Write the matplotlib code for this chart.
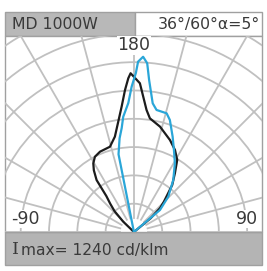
import numpy as np
import matplotlib
matplotlib.use("Agg")
import matplotlib.pyplot as plt
from matplotlib.patches import Rectangle, Circle

# luminaire info
title_left = "MD 1000W"
title_right = "36°/60°α=5°"
imax_text = "max= 1240 cd/klm"

# C0-C180 plane (black), angle from vertical in deg, intensity cd/klm
black_ang = [-48, -46, -43, -40, -37.5, -35.7, -33, -30.6, -27.4, -22.9, -15.7, -11.3,
             -8.1, -5.6, -3.6, -2.1, -1.2, 2.3, 5.9, 8.0, 13.9, 21.4, 26.6, 31.0,
             34.8, 39.2, 44.7, 47.5, 50.6, 53]
black_cd = [0, 105, 200, 260, 320, 452, 520, 564, 599, 616, 626, 687,
            787, 890, 1005, 1087, 1122, 1052, 867, 811, 767, 698, 648, 594,
            508, 428, 301, 250, 153, 0]

# C90-C270 plane (blue)
blue_ang = [-12, -11.2, -8.7, -6.7, -5.3, -2.5, -0.9, 0.7, 1.4, 3.0, 4.5, 5.7,
            8.3, 10.5, 15.4, 17.8, 22.1, 26.0, 30.7, 37.1, 44.2, 49.8, 54]
blue_cd = [0, 560, 670, 740, 818, 912, 1027, 1124, 1204, 1240, 1196, 1080,
           919, 877, 870, 831, 727, 645, 567, 461, 348, 241, 0]

W, H = 267, 271
fig = plt.figure(figsize=(W / 100, H / 100), dpi=100)

# background layer in pixel coords
bg = fig.add_axes([0, 0, 1, 1])
bg.set_xlim(0, W)
bg.set_ylim(H, 0)
bg.axis("off")
edge = "#a0a0a0"
bg.add_patch(Rectangle((5, 12), 130, 24, facecolor="#b8b8b8", edgecolor=edge, lw=1))
bg.add_patch(Rectangle((135, 12), 127, 24, facecolor="white", edgecolor=edge, lw=1))
bg.add_patch(Rectangle((5, 232), 257, 33, facecolor="#b4b4b4", edgecolor=edge, lw=1))
bg.add_patch(Rectangle((5, 36), 257, 196, facecolor="white", edgecolor=edge, lw=1))
txt = "#3a3a3a"
bg.text(12, 24.5, title_left, fontsize=11.3, color=txt, va="center", ha="left")
bg.text(260, 24.5, title_right, fontsize=11.3, color=txt, va="center", ha="right")
bg.text(12, 250, "I", fontsize=12.5, color=txt, va="center", ha="left", family="DejaVu Serif")
bg.text(21, 250.5, imax_text, fontsize=11.2, color=txt, va="center", ha="left")

# polar diagram drawn on a cartesian axes
ax = fig.add_axes([5 / W, 1 - 232 / H, 257 / W, 196 / H])
ax.set_xlim(-911, 905)
ax.set_ylim(0, 1385)
ax.set_aspect("equal")
ax.axis("off")

grid = "#c0c0c0"
for r in range(200, 1801, 200):
    ax.add_patch(Circle((0, 0), r, fill=False, edgecolor=grid, lw=1.3))
for a in range(-90, 91, 15):
    t = np.radians(a)
    ax.plot([100 * np.sin(t), 2500 * np.sin(t)], [100 * np.cos(t), 2500 * np.cos(t)],
            color=grid, lw=1.3)

box = dict(facecolor="white", edgecolor="none", pad=0.2)
ax.text(0, 1318, "180", fontsize=12.5, color=txt, ha="center", va="center", bbox=box)
ax.text(-770, 92, "-90", fontsize=12.5, color=txt, ha="center", va="center", bbox=box)
ax.text(800, 92, "90", fontsize=12.5, color=txt, ha="center", va="center", bbox=box)

for ang, cd, col in [(black_ang, black_cd, "#1c1c1c"), (blue_ang, blue_cd, "#2aa6d8")]:
    t = np.radians(np.array(ang))
    r = np.array(cd)
    ax.plot(r * np.sin(t), r * np.cos(t), color=col, lw=1.6, zorder=5)

fig.savefig("out.png", dpi=100)
